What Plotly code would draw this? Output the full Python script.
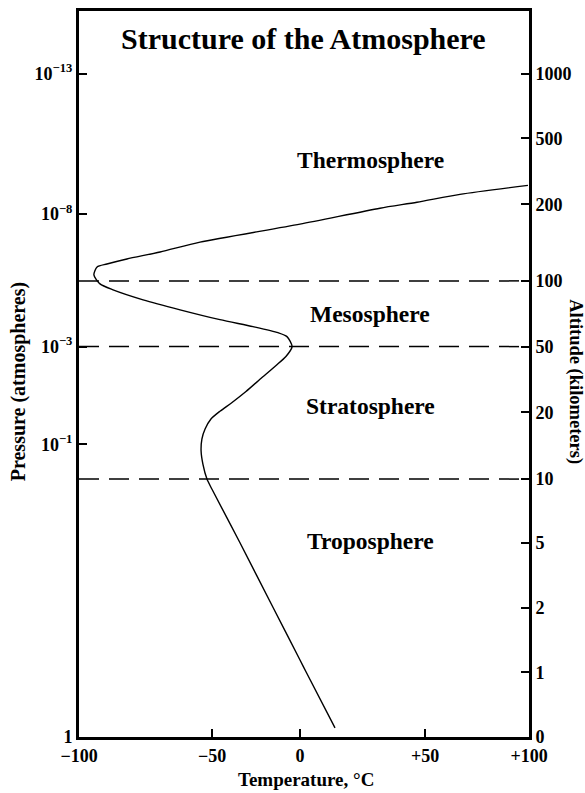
import numpy as np
import plotly.graph_objects as go

# ---------------- data ----------------
temperature_c = [14, 2.5, 0, -15.3, -34.1, -50, -51.9, -53.4, -54.1, -53.8, -52.6, -50.4, -45.5,
                 -38.6, -30.7, -21.6, -13.6, -8.0, -4.5, -7.4, -12.5, -26.7, -45.5, -62.0, -75.9,
                 -87.2, -92.1, -94.4, -93.2, -89.5, -82.0, -69.5, -54.5, 0, 32, 46.8, 66.8, 99.5]
altitude_km = [0.14, 1, 1.19, 2, 5, 9.2, 10, 12.2, 14.2, 16.0, 17.5, 19.0, 20.5,
               24.5, 29.5, 35.9, 41.4, 45.5, 50, 57.6, 60.6, 65.2, 70.5, 78.0, 85.6,
               93.2, 97.7, 107.8, 118.2, 122, 128.6, 137.7, 150.6, 174, 194.8, 209, 245, 286]

boundary_km = [10, 50, 100]
layer_names = ["Thermosphere", "Mesosphere", "Stratosphere", "Troposphere"]
layer_alt_km = [400, 75, 22.7, 5.16]
layer_temp_c = [28, 28, 28, 28]

temp_ticks = [-100, -50, 0, 50, 100]
temp_ticktext = ["\u2212100", "\u221250", "0", "+50", "+100"]
alt_ticks = [0, 1, 2, 5, 10, 20, 50, 100, 200, 500, 1000]
pressure_exp = [0, -1, -3, -8, -13]
pressure_ticktext = ["1", "10<sup>\u22121</sup>", "10<sup>\u22123</sup>",
                     "10<sup>\u22128</sup>", "10<sup>\u221213</sup>"]

# ---------------- custom (hand-drawn) axis scales ----------------
T_SCALE = ([-100, -50, 0, 50, 100], [0, 133, 221, 346, 450])
A_SCALE = ([0, 1, 2, 5, 10, 20, 50, 100, 200, 500, 1000],
           [0, 65, 130, 195, 259, 326, 392, 458, 535, 601, 666])
P_SCALE = ([-13, -8, -3, -1, 0], [666, 525, 392, 294, 0])


def tx(t):
    return np.interp(t, *T_SCALE)


def ay(a):
    return np.interp(a, *A_SCALE)


def py(e):
    return np.interp(e, *P_SCALE)


XR = [0, 450]
YR = [0, 729]

serif = "Liberation Serif, Times New Roman, serif"

fig = go.Figure()

for b in boundary_km:
    fig.add_trace(go.Scatter(x=tx([-100, 100]), y=ay([b, b]), mode="lines",
                             line=dict(color="black", width=1.5, dash="20px,10px"),
                             showlegend=False, hoverinfo="skip"))

fig.add_trace(go.Scatter(x=tx(temperature_c), y=ay(altitude_km), mode="lines",
                         line=dict(color="black", width=1.4, shape="spline", smoothing=0.7),
                         showlegend=False))

# invisible trace on the right axis
fig.add_trace(go.Scatter(x=[XR[0]], y=[YR[0]], yaxis="y2", mode="markers",
                         marker=dict(opacity=0), showlegend=False, hoverinfo="skip"))

for name, a, t in zip(layer_names, layer_alt_km, layer_temp_c):
    fig.add_annotation(x=float(tx(t)), y=float(ay(a)), text=name, showarrow=False,
                       xanchor="center", yanchor="middle",
                       font=dict(family=serif, size=23.5, color="black", weight="bold"))

fig.add_annotation(x=0.498, y=0.962, xref="paper", yref="paper",
                   xanchor="center", yanchor="middle",
                   text="Structure of the Atmosphere", showarrow=False,
                   font=dict(family=serif, size=30, color="black", weight="bold"))
fig.add_annotation(x=-0.1356, y=0.49, xref="paper", yref="paper", textangle=-90,
                   xanchor="center", yanchor="middle",
                   text="Pressure (atmospheres)", showarrow=False,
                   font=dict(family=serif, size=20, color="black", weight="bold"))
fig.add_annotation(x=1.1045, y=0.49, xref="paper", yref="paper", textangle=90,
                   xanchor="center", yanchor="middle",
                   text="Altitude (kilometers)", showarrow=False,
                   font=dict(family=serif, size=18.5, color="black", weight="bold"))
fig.add_annotation(x=0.504, y=-0.059, xref="paper", yref="paper",
                   xanchor="center", yanchor="middle",
                   text="Temperature, \u00b0C", showarrow=False,
                   font=dict(family=serif, size=19, color="black", weight="bold"))

tickfont = dict(family=serif, size=18, color="black", weight="bold")

fig.update_layout(
    width=585, height=793,
    margin=dict(l=79, r=56, t=8, b=56),
    paper_bgcolor="white", plot_bgcolor="white",
    xaxis=dict(range=XR, showgrid=False, zeroline=False, showline=True, mirror=True,
               linecolor="black", linewidth=3, ticks="inside", ticklen=8, tickwidth=2,
               tickcolor="black", tickvals=tx(temp_ticks), ticktext=temp_ticktext,
               tickfont=tickfont),
    yaxis=dict(range=YR, showgrid=False, zeroline=False, showline=True,
               linecolor="black", linewidth=3, ticks="inside", ticklen=8, tickwidth=2,
               tickcolor="black", tickvals=py(pressure_exp), ticktext=pressure_ticktext,
               tickfont=tickfont),
    yaxis2=dict(range=YR, overlaying="y", side="right", showgrid=False, zeroline=False,
                showline=True, linecolor="black", linewidth=3, ticks="inside", ticklen=8,
                tickwidth=2, tickcolor="black", tickvals=ay(alt_ticks),
                ticktext=[str(a) for a in alt_ticks], tickfont=tickfont),
)

fig.write_html("out.html")
